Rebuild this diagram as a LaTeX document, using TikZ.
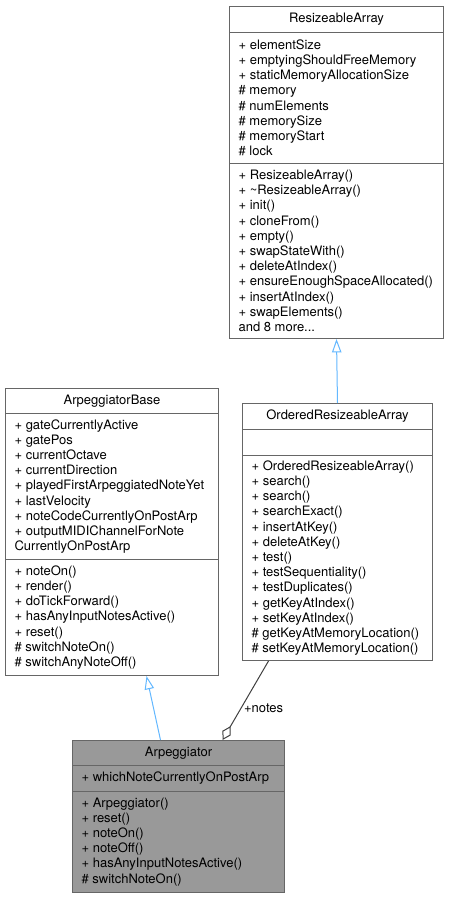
\documentclass[tikz,border=0pt]{standalone}
\usepackage{fontspec}
\setmainfont{TeX Gyre Heros}
\usetikzlibrary{calc,arrows.meta}
\definecolor{boxline}{HTML}{666666}
\definecolor{boxgrey}{HTML}{999999}
\definecolor{inheritblue}{HTML}{63B8FF}
\definecolor{usegrey}{HTML}{404040}
\def\pxu{0.75pt}
\tikzset{
	part/.style={draw=boxline, line width=0.75pt, fill=white, anchor=north west, inner sep=0pt},
	heading/.style={font=\fontsize{9.75}{11.4}\selectfont},
	members/.style={anchor=west, align=left, inner xsep=7pt, inner ysep=0pt, font=\fontsize{9.75}{11.4}\selectfont},
	inherit/.style={draw=inheritblue, line width=0.75pt, -{Triangle[open, length=10pt, width=7pt]}},
	aggregate/.style={draw=usegrey, line width=0.75pt, {Diamond[open, length=12pt, width=7pt]}-},
	edgelabel/.style={font=\fontsize{9.75}{11.4}\selectfont, inner sep=2pt}
}
\def\classpart[#1](#2)(#3,#4)(#5:#6)#7{%
	\node[part, minimum width=#5*\pxu, minimum height=#6*\pxu, #1] (#2) at (#3,#4) {};
	\node[members] (#2-txt) at (#2.west) {#7};}

\begin{document}
\begin{tikzpicture}[x=0.75pt, y=-0.75pt]
			%%%%% START %%%%%
			
			\fill[white] (0, 0) rectangle (450, 898);
			\useasboundingbox (0, 0) rectangle (450, 898);
			
			% ResizeableArray
			\node[part, heading, minimum width=214*\pxu, minimum height=26*\pxu] (ra) at (229, 6) {ResizeableArray};
			\classpart[](ra-a)(229, 32)(214:130.6){+ elementSize\\+ emptyingShouldFreeMemory\\+ staticMemoryAllocationSize\\\# memory\\\# numElements\\\# memorySize\\\# memoryStart\\\# lock}
			\classpart[](ra-m)(229, 162.6)(214:175.4){+ ResizeableArray()\\+ \textasciitilde ResizeableArray()\\+ init()\\+ cloneFrom()\\+ empty()\\+ swapStateWith()\\+ deleteAtIndex()\\+ ensureEnoughSpaceAllocated()\\+ insertAtIndex()\\+ swapElements()\\and 8 more...}
			
			% OrderedResizeableArray
			\node[part, heading, minimum width=190*\pxu, minimum height=26*\pxu] (ora) at (242, 403) {OrderedResizeableArray};
			\classpart[](ora-a)(242, 429)(190:26){}
			\classpart[](ora-m)(242, 455)(190:205){+ OrderedResizeableArray()\\+ search()\\+ search()\\+ searchExact()\\+ insertAtKey()\\+ deleteAtKey()\\+ test()\\+ testSequentiality()\\+ testDuplicates()\\+ getKeyAtIndex()\\+ setKeyAtIndex()\\\# getKeyAtMemoryLocation()\\\# setKeyAtMemoryLocation()}
			
			% ArpeggiatorBase
			\node[part, heading, minimum width=213*\pxu, minimum height=25*\pxu] (ab) at (5, 388) {ArpeggiatorBase};
			\classpart[](ab-a)(5, 413)(213:145.8){+ gateCurrentlyActive\\+ gatePos\\+ currentOctave\\+ currentDirection\\+ playedFirstArpeggiatedNoteYet\\+ lastVelocity\\+ noteCodeCurrentlyOnPostArp\\+ outputMIDIChannelForNote\\CurrentlyOnPostArp}
			\classpart[](ab-m)(5, 558.8)(213:116.2){+ noteOn()\\+ render()\\+ doTickForward()\\+ hasAnyInputNotesActive()\\+ reset()\\\# switchNoteOn()\\\# switchAnyNoteOff()}
			
			% Arpeggiator
			\node[part, heading, fill=boxgrey, minimum width=212*\pxu, minimum height=25*\pxu] (arp) at (72, 740) {Arpeggiator};
			\classpart[fill=boxgrey](arp-a)(72, 765)(212:26){+ whichNoteCurrentlyOnPostArp}
			\classpart[fill=boxgrey](arp-m)(72, 791)(212:100.6){+ Arpeggiator()\\+ reset()\\+ noteOn()\\+ noteOff()\\+ hasAnyInputNotesActive()\\\# switchNoteOn()}
			
			% edges
			\draw[inherit] (ora.north) -- (ra-m.south);
			\draw[inherit] ($(arp.north)+(-18, 0)$) -- ($(ab-m.south)+(34.5, 0)$);
			\draw[aggregate] ($(arp.north)+(44, 0)$) -- node[edgelabel, pos=0.4, right] (noteslbl) {+notes} ($(ora-m.south)+(-69, 0)$);
			
			%%%%% END %%%%%
\end{tikzpicture}
\end{document}
